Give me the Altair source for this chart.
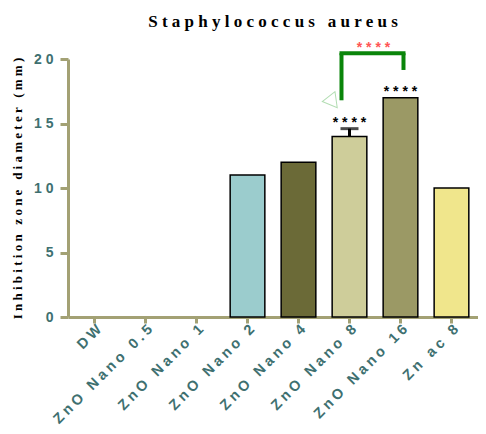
import altair as alt
import pandas as pd

categories = ["DW", "ZnO Nano 0.5", "ZnO Nano 1", "ZnO Nano 2", "ZnO Nano 4",
              "ZnO Nano 8", "ZnO Nano 16", "Zn ac 8"]
values = [0, 0, 0, 11, 12, 14, 17, 10]
err_upper = [0, 0, 0, 0, 0, 0.6, 0, 0]
bar_colors = ["#FFFFFF", "#FFFFFF", "#FFFFFF", "#9BCCCD", "#6B6A37",
              "#CECD9A", "#9B9965", "#F0E68C"]
stars = ["", "", "", "", "", "* * * *", "* * * *", ""]

title_text = "Staphylococcus aureus"
y_title = "Inhibition zone diameter (mm)"
sig_label = "* * * *"

# bracket (comparison ZnO Nano 8 vs ZnO Nano 16)
br_left, br_right = "ZnO Nano 8", "ZnO Nano 16"
br_top, br_left_bottom, br_right_bottom = 20.45, 16.8, 19.15

axis_col = "#A3A174"
lab_col = "#3E7070"
NB = "\u00a0"
GAP = "\u2005"


def spaced(s):
    return " ".join(s.replace(" ", NB))


x_label_expr = ("join(split(replace(datum.label, regexp(' ', 'g'), '" + NB +
                "'), ''), '" + GAP + "')")
y_label_expr = "join(split(datum.label, ''), ' ')"

df = pd.DataFrame({"cat": categories, "val": values, "err": err_upper,
                   "color": bar_colors, "stars": stars})
df["top"] = df["val"] + df["err"]

xscale = alt.Scale(domain=categories, paddingInner=0.32, paddingOuter=0.18)
xenc = alt.X("cat:N", sort=categories, scale=xscale, title=None,
             axis=alt.Axis(labelAngle=-45, labelFont="Liberation Sans",
                           labelFontWeight="bold", labelFontSize=14.5,
                           labelColor=lab_col, labelExpr=x_label_expr,
                           domainColor=axis_col, domainWidth=3, tickColor=axis_col,
                           tickWidth=3, tickSize=6, labelPadding=-1))
yscale = alt.Scale(domain=[0, 20], nice=False)
yaxis = alt.Axis(values=[0, 5, 10, 15, 20], grid=False, labelFont="Liberation Sans",
                 labelFontWeight="bold", labelFontSize=14, labelColor=lab_col,
                 labelExpr=y_label_expr,
                 domainColor=axis_col, domainWidth=3, tickColor=axis_col, tickWidth=3,
                 tickSize=8, labelPadding=7, titleFont="Liberation Serif",
                 titleFontWeight="bold", titleFontSize=13, titleColor="black",
                 titlePadding=9)

base = alt.Chart(df)

bars = base.transform_filter("datum.val > 0").mark_bar(
    stroke="black", strokeWidth=1.5).encode(
    x=xenc,
    y=alt.Y("val:Q", scale=yscale, axis=yaxis, title=spaced(y_title)),
    color=alt.Color("color:N", scale=None),
)

err_rule = base.transform_filter("datum.err > 0").mark_rule(
    color="black", strokeWidth=3).encode(
    x=alt.X("cat:N", sort=categories), y="val:Q", y2="top:Q")
err_cap = base.transform_filter("datum.err > 0").mark_tick(
    color="black", thickness=3, size=18, orient="horizontal").encode(
    x=alt.X("cat:N", sort=categories), y="top:Q")

star_text = base.transform_filter("datum.stars != ''").mark_text(
    font="Liberation Sans", fontWeight="bold", fontSize=14, baseline="alphabetic",
    dy=-2, color="black").encode(
    x=alt.X("cat:N", sort=categories), y="top:Q", text="stars:N")

bdf = pd.DataFrame({"x": [br_left], "x2": [br_right], "y": [br_top],
                    "yl": [br_left_bottom], "yr": [br_right_bottom],
                    "lab": [sig_label]})
bb = alt.Chart(bdf)
green = "#0A850A"
left_v = bb.mark_rule(color=green, strokeWidth=4, xOffset=-8).encode(
    x=alt.X("x:N", sort=categories), y="y:Q", y2="yl:Q")
right_v = bb.mark_rule(color=green, strokeWidth=4, xOffset=3).encode(
    x=alt.X("x2:N", sort=categories), y="y:Q", y2="yr:Q")
top_h = bb.mark_rule(color=green, strokeWidth=4, xOffset=-10, x2Offset=5).encode(
    x=alt.X("x:N", sort=categories), x2="x2:N", y="y:Q")
tri = bb.mark_point(shape="triangle", filled=False, stroke="#B2DDB2", strokeWidth=1,
                    size=260, angle=262, xOffset=-18, opacity=1).encode(
    x=alt.X("x:N", sort=categories), y=alt.Y("yl:Q"))
red_text = bb.mark_text(font="Liberation Sans", fontWeight="bold", fontSize=14,
                        baseline="alphabetic", dy=-1, xOffset=24,
                        color="#FF5555").encode(
    x=alt.X("x:N", sort=categories), y="y:Q", text="lab:N")

chart = alt.layer(bars, err_rule, err_cap, star_text, left_v, right_v, top_h, tri,
                  red_text).properties(
    width=410, height=258,
    title=alt.TitleParams(spaced(title_text),
                          font="Liberation Serif", fontSize=17,
                          fontWeight="bold", anchor="middle", offset=10, color="black"),
    autosize=alt.AutoSizeParams(type="none"),
    padding={"left": 60, "top": 51, "right": 0, "bottom": 115},
).configure_view(stroke=None)

chart.save("out.html", embed_options={"renderer": "svg", "actions": False})
